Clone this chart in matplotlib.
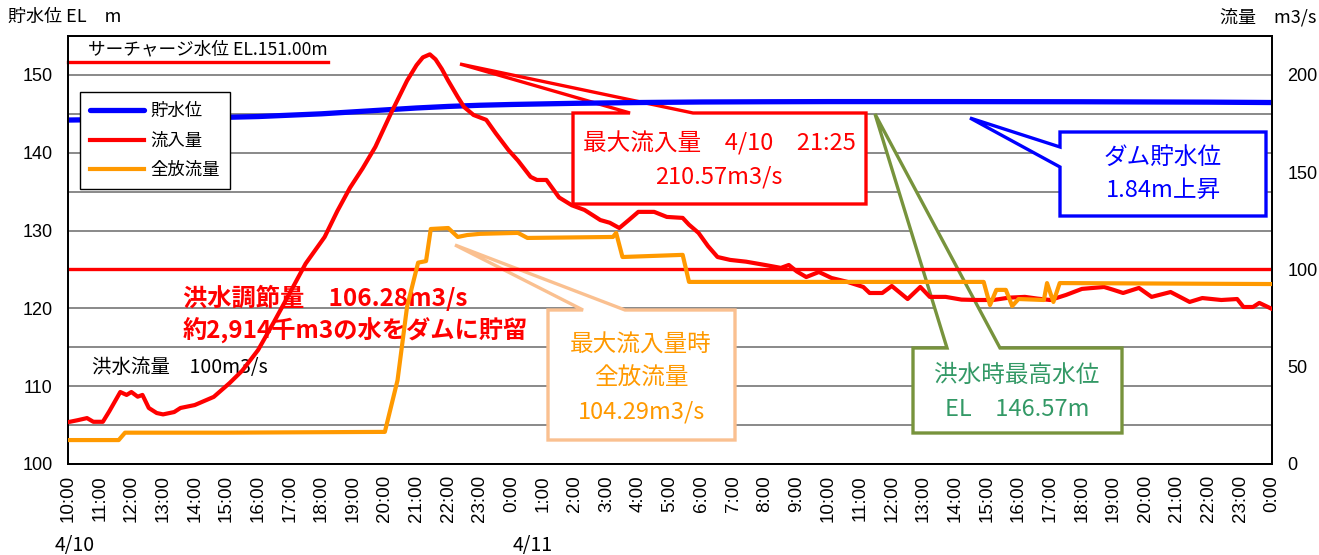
import matplotlib
matplotlib.use('Agg')
import matplotlib.pyplot as plt
from matplotlib.patches import Polygon
from matplotlib.ticker import MultipleLocator

plt.rcParams['font.family'] = ['Noto Sans CJK JP', 'DejaVu Sans']

# time axis: hours counted from 4/10 10:00
level_h = [0, 2, 4, 6, 8, 10, 11, 12, 13, 14, 16, 18, 20, 22, 24, 28, 32, 36, 38]
level = [144.2, 144.3, 144.45, 144.65, 145.0, 145.5, 145.75, 145.95, 146.1, 146.2,
         146.35, 146.45, 146.52, 146.55, 146.57, 146.57, 146.55, 146.5, 146.45]

inflow_h = [0.0, 0.3, 0.6, 0.8, 1.1, 1.3, 1.65, 1.85, 2.0, 2.2, 2.35, 2.55, 2.8, 3.0,
            3.35, 3.55, 4.0, 4.6, 5.1, 5.5, 6.0, 6.5, 7.0, 7.5, 8.1, 8.5, 8.9, 9.3,
            9.7, 10.2, 10.7, 11.0, 11.2, 11.42, 11.6, 11.8, 12.0, 12.3, 12.5, 12.8,
            13.2, 13.5, 13.9, 14.2, 14.6, 14.8, 15.1, 15.5, 15.9, 16.3, 16.6, 16.8,
            17.1, 17.4, 17.7, 18.0, 18.5, 18.9, 19.4, 19.6, 19.9, 20.2, 20.5, 20.9,
            21.4, 22.0, 22.5, 22.75, 23.0, 23.3, 23.7, 24.1, 24.6, 25.1, 25.3, 25.7,
            26.0, 26.5, 26.9, 27.2, 27.7, 28.2, 28.7, 29.2, 29.7, 30.2, 30.6, 31.0,
            31.5, 32.0, 32.7, 33.0, 33.3, 33.8, 34.2, 34.8, 35.4, 35.8, 36.4, 36.9,
            37.1, 37.4, 37.6, 38.0]
inflow = [21.5, 22.5, 23.6, 21.7, 21.7, 27, 37, 35.5, 37, 34.6, 35.5, 28.8, 26.2, 25.5,
          26.7, 28.8, 30.3, 34.5, 41.6, 48, 58.6, 73, 87.9, 103, 116.7, 130, 142, 152,
          163, 180.5, 197, 205, 209, 210.57, 208, 203, 197, 188.7, 183.5, 179.4,
          176.9, 170, 161.4, 156, 147.6, 146, 146, 137, 133, 130.6, 127.5, 125.4,
          124, 121.3, 125.4, 129.6, 129.6, 127, 126.5, 123, 118.8, 112, 106.4, 104.9,
          104, 102.3, 100.8, 102.3, 99, 96.1, 98.7, 95.6, 93.6, 91, 87.9, 87.9,
          91.5, 84.8, 91, 85.9, 85.9, 84.5, 84.3, 84.3, 85.5, 85.9, 85, 84.3,
          86.9, 90, 91, 89.5, 87.9, 90.5, 85.9, 88.4, 83.3, 85.3, 84.3, 84.8,
          80.7, 80.7, 82.8, 79.7]

outflow_h = [0.0, 1.6, 1.8, 5.0, 9.9, 10.0, 10.4, 10.7, 11.05, 11.3, 11.45, 12.0, 12.3,
             12.6, 13.0, 14.2, 14.5, 17.2, 17.3, 17.5, 19.4, 19.6, 28.9, 29.1, 29.3,
             29.6, 29.8, 30.0, 30.8, 30.9, 31.1, 31.3, 38.0]
outflow = [12.3, 12.3, 16.1, 16.1, 16.5, 16.5, 43, 80.7, 103.5, 104.29, 120.8, 121.3, 116.7,
           117.7, 118.3, 118.8, 116.2, 116.7, 118.8, 106.4, 107.5, 93.6, 93.6, 81.7, 89.5,
           89.5, 81.2, 84.8, 84.3, 93, 83.3, 93, 92.5]

hour_labels = ['10:00', '11:00', '12:00', '13:00', '14:00', '15:00', '16:00', '17:00',
               '18:00', '19:00', '20:00', '21:00', '22:00', '23:00', '0:00', '1:00',
               '2:00', '3:00', '4:00', '5:00', '6:00', '7:00', '8:00', '9:00', '10:00',
               '11:00', '12:00', '13:00', '14:00', '15:00', '16:00', '17:00', '18:00',
               '19:00', '20:00', '21:00', '22:00', '23:00', '0:00']
left_ticks = [100, 110, 120, 130, 140, 150]
right_ticks = [0, 50, 100, 150, 200]
flood_flow = 100

W, H = 1319, 555


def fx(px):
    return px / W


def fy(py):
    return 1 - py / H


fig = plt.figure(figsize=(W / 100, H / 100), dpi=100)
ax = fig.add_axes([fx(68), fy(464), fx(1272) - fx(68), fy(36) - fy(464)])
ax2 = ax.twinx()

ax.set_xlim(0, 38)
ax.set_ylim(100, 155)
ax2.set_ylim(0, 220)

ax.set_axisbelow(True)
ax.set_yticks(left_ticks)
ax.yaxis.set_minor_locator(MultipleLocator(5))
ax.grid(axis='y', which='both', color='#808080', lw=1.3)
ax.set_xticks(range(len(hour_labels)))
ax.set_xticklabels(hour_labels, rotation=90, family='Liberation Sans', fontsize=13.5)
ax.tick_params(axis='x', length=0, pad=8)
ax.tick_params(axis='y', which='both', length=0, pad=11, labelsize=13)
ax2.set_yticks(right_ticks)
ax2.tick_params(axis='y', length=0, pad=11, labelsize=13)
for lab in ax.get_yticklabels() + ax2.get_yticklabels():
    lab.set_family('Liberation Sans')
for a in (ax, ax2):
    for s in a.spines.values():
        s.set_linewidth(1.3)

l1, = ax.plot(level_h, level, color='#0000FF', lw=3.8, label='貯水位', zorder=3,
              solid_capstyle='round')
l2, = ax2.plot(inflow_h, inflow, color='#FF0000', lw=3.0, label='流入量', zorder=3,
               solid_joinstyle='round')
l3, = ax2.plot(outflow_h, outflow, color='#FF9900', lw=3.0, label='全放流量', zorder=3,
               solid_joinstyle='round')
ax2.axhline(flood_flow, color='#FF0000', lw=2.4, zorder=2)

leg = ax2.legend(handles=[l1, l2, l3], loc='upper left',
                 bbox_to_anchor=(fx(80), fy(92)), bbox_transform=fig.transFigure,
                 borderaxespad=0, fontsize=12.5, handlelength=3.1, handletextpad=0.35,
                 labelspacing=0.65, borderpad=0.6, fancybox=False, framealpha=1)
leg.get_frame().set_edgecolor('black')
leg.get_frame().set_linewidth(1.0)
leg.set_zorder(5)

# axis titles and date labels
fig.text(fx(8), fy(17), '貯水位 EL　m', fontsize=13, va='center', ha='left')
fig.text(fx(1316), fy(17), '流量　m3/s', fontsize=13, va='center', ha='right')
fig.text(fx(75), fy(545), '4/10', fontsize=14, va='center', ha='center')
fig.text(fx(533), fy(545), '4/11', fontsize=14, va='center', ha='center')

# surcharge level marker
ax.plot([fx(68), fx(328)], [fy(62), fy(62)], transform=fig.transFigure, color='#FF0000',
        lw=2.4, clip_on=False)
ax.text(fx(88), fy(49), 'サーチャージ水位 EL.151.00m', transform=fig.transFigure,
        fontsize=12.7, va='center', ha='left')

ax.text(fx(183), fy(298), '洪水調節量　106.28m3/s', transform=fig.transFigure,
        fontsize=17.5, fontweight='bold', color='#FF0000', va='center', ha='left', zorder=3)
ax.text(fx(183), fy(331), '約2,914千m3の水をダムに貯留', transform=fig.transFigure,
        fontsize=17.5, fontweight='bold', color='#FF0000', va='center', ha='left', zorder=3)
ax.text(fx(92), fy(368), '洪水流量　100m3/s', transform=fig.transFigure,
        fontsize=14, color='black', va='center', ha='left', zorder=3)


def callout(pts, edge, lw):
    poly = Polygon([(fx(x), fy(y)) for x, y in pts], closed=True, transform=fig.transFigure,
                   facecolor='white', edgecolor=edge, lw=lw, zorder=1, clip_on=False,
                   joinstyle='miter')
    ax.add_patch(poly)


callout([(573, 113), (630, 113), (460, 64), (693, 113), (866, 113), (866, 204), (573, 204)],
        '#FF0000', 2.4)
ax.text(fx(719), fy(143), '最大流入量　4/10　21:25', transform=fig.transFigure, fontsize=17,
        color='#FF0000', ha='center', va='center')
ax.text(fx(719), fy(177), '210.57m3/s', transform=fig.transFigure, fontsize=17,
        color='#FF0000', ha='center', va='center')

callout([(1060, 132), (1266, 132), (1266, 216), (1060, 216), (1060, 167), (970, 118),
         (1060, 147)], '#0000FF', 2.4)
ax.text(fx(1163), fy(157), 'ダム貯水位', transform=fig.transFigure, fontsize=17,
        color='#0000FF', ha='center', va='center')
ax.text(fx(1163), fy(190), '1.84m上昇', transform=fig.transFigure, fontsize=17,
        color='#0000FF', ha='center', va='center')

callout([(913, 348), (947, 348), (875, 114), (1000, 348), (1122, 348), (1122, 433),
         (913, 433)], '#77933C', 2.4)
ax.text(fx(1017), fy(375), '洪水時最高水位', transform=fig.transFigure, fontsize=17,
        color='#339966', ha='center', va='center')
ax.text(fx(1017), fy(410), 'EL　146.57m', transform=fig.transFigure, fontsize=17,
        color='#339966', ha='center', va='center')

callout([(548, 310), (583, 310), (455, 245), (625, 310), (735, 310), (735, 440),
         (548, 440)], '#FAC090', 2.4)
ax.text(fx(641), fy(345), '最大流入量時', transform=fig.transFigure, fontsize=17,
        color='#FF9900', ha='center', va='center')
ax.text(fx(641), fy(378), '全放流量', transform=fig.transFigure, fontsize=17,
        color='#FF9900', ha='center', va='center')
ax.text(fx(641), fy(412), '104.29m3/s', transform=fig.transFigure, fontsize=17,
        color='#FF9900', ha='center', va='center')

fig.savefig('out.png', dpi=100)
